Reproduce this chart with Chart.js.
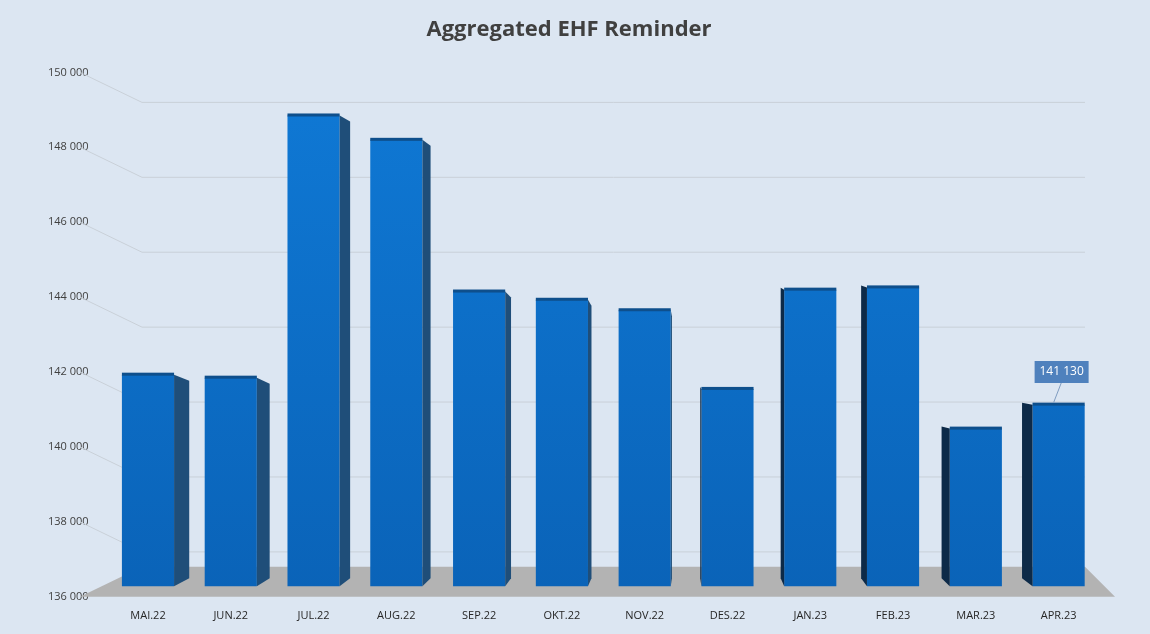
<!DOCTYPE html>
<html>
<head>
<meta charset="utf-8">
<script src="https://cdn.jsdelivr.net/npm/chart.js@4"></script>
<style>
  html, body { margin: 0; padding: 0; background: #dce6f2; }
  #wrap { width: 1150px; height: 634px; }
</style>
</head>
<body>
<div id="wrap"><canvas id="c" width="1150" height="634"></canvas></div>
<script>
const months = ['MAI.22', 'JUN.22', 'JUL.22', 'AUG.22', 'SEP.22', 'OKT.22', 'NOV.22', 'DES.22', 'JAN.23', 'FEB.23', 'MAR.23', 'APR.23'];
const reminders = [141930, 141850, 148850, 148200, 144150, 143930, 143650, 141550, 144200, 144260, 140490, 141130];
const yTicks = [136000, 138000, 140000, 142000, 144000, 146000, 148000, 150000];

const fmt = v => String(v).replace(/\B(?=(\d{3})+(?!\d))/g, ' ');

// back wall, floor and 3D sides
const threeD = {
  id: 'threeD',
  beforeDatasetsDraw(chart) {
    const { ctx, scales: { y } } = chart;
    const y0 = y.getPixelForValue(136000);
    ctx.save();
    // floor
    ctx.fillStyle = '#b3b3b3';
    ctx.beginPath();
    ctx.moveTo(80, y0); ctx.lineTo(1115, y0); ctx.lineTo(1085, y0 - 30); ctx.lineTo(142, y0 - 30);
    ctx.closePath(); ctx.fill();
    // grid lines on back wall
    ctx.strokeStyle = '#c9d0d8';
    ctx.lineWidth = 1;
    yTicks.forEach(v => {
      if (v === yTicks[0]) return;
      const py = y.getPixelForValue(v);
      ctx.beginPath();
      ctx.moveTo(80, py); ctx.lineTo(142, py + 30); ctx.lineTo(1085, py + 30);
      ctx.stroke();
    });
    ctx.restore();
  },
  afterDatasetsDraw(chart) {
    const { ctx } = chart;
    const meta = chart.getDatasetMeta(0);
    ctx.save();
    meta.data.forEach((bar, i) => {
      const left = bar.x - bar.width / 2, right = bar.x + bar.width / 2;
      const top = bar.y, bottom = bar.base;
      const k = (i - 6.5) / 6;           // perspective
      const dx = -k * 14;
      ctx.beginPath();
      if (dx > 0) {
        ctx.fillStyle = '#1f4e79';
        ctx.moveTo(right, top); ctx.lineTo(right + dx, top + 6);
        ctx.lineTo(right + dx, bottom - 8); ctx.lineTo(right, bottom);
      } else {
        ctx.fillStyle = '#0d2a48';
        ctx.moveTo(left, top); ctx.lineTo(left + dx, top - 2);
        ctx.lineTo(left + dx, bottom - 8); ctx.lineTo(left, bottom);
      }
      ctx.closePath(); ctx.fill();
      // top rim
      ctx.fillStyle = '#0e4f8c';
      ctx.fillRect(left, top - 2, right - left, 3);
    });
    // data label for last bar
    const last = meta.data[meta.data.length - 1];
    const lx = last.x + 3, ly = 372;
    ctx.strokeStyle = '#7f9cc0';
    ctx.beginPath(); ctx.moveTo(last.x - 5, last.y - 2); ctx.lineTo(last.x + 3, ly + 10); ctx.stroke();
    ctx.fillStyle = '#4f81bd';
    ctx.fillRect(lx - 27, ly - 11, 54, 22);
    ctx.fillStyle = '#fff';
    ctx.font = '12px "Open Sans", sans-serif';
    ctx.textAlign = 'center'; ctx.textBaseline = 'middle';
    ctx.fillText(fmt(reminders[reminders.length - 1]), lx, ly);
    ctx.restore();
  }
};

new Chart(document.getElementById('c'), {
  type: 'bar',
  data: {
    labels: months,
    datasets: [{
      data: reminders,
      base: 136280,
      backgroundColor: ctx => {
        const c = ctx.chart.ctx;
        const g = c.createLinearGradient(0, 100, 0, 590);
        g.addColorStop(0, '#0f78d4');
        g.addColorStop(1, '#0a63b8');
        return g;
      },
      borderWidth: 0,
      categoryPercentage: 1,
      barPercentage: 0.63
    }]
  },
  options: {
    responsive: false,
    animation: false,
    layout: { padding: { top: 0, right: 50, left: 38, bottom: 8 } },
    plugins: {
      legend: { display: false },
      tooltip: { enabled: false },
      title: {
        display: true,
        text: 'Aggregated EHF Reminder',
        color: '#404040',
        font: { family: '"Open Sans", sans-serif', size: 22, weight: 'bold' },
        padding: { top: 17, bottom: 29 }
      }
    },
    scales: {
      x: {
        grid: { display: false },
        border: { display: false },
        ticks: { color: '#262626', font: { family: '"Open Sans", sans-serif', size: 11 }, padding: 4 }
      },
      y: {
        min: 136000,
        max: 150000,
        afterBuildTicks: s => { s.ticks = yTicks.map(v => ({ value: v })); },
        grid: { display: false },
        border: { display: false },
        ticks: {
          color: '#404040',
          font: { family: '"Open Sans", sans-serif', size: 11 },
          callback: v => fmt(v),
          padding: 10
        }
      }
    }
  },
  plugins: [threeD]
});
</script>
</body>
</html>
